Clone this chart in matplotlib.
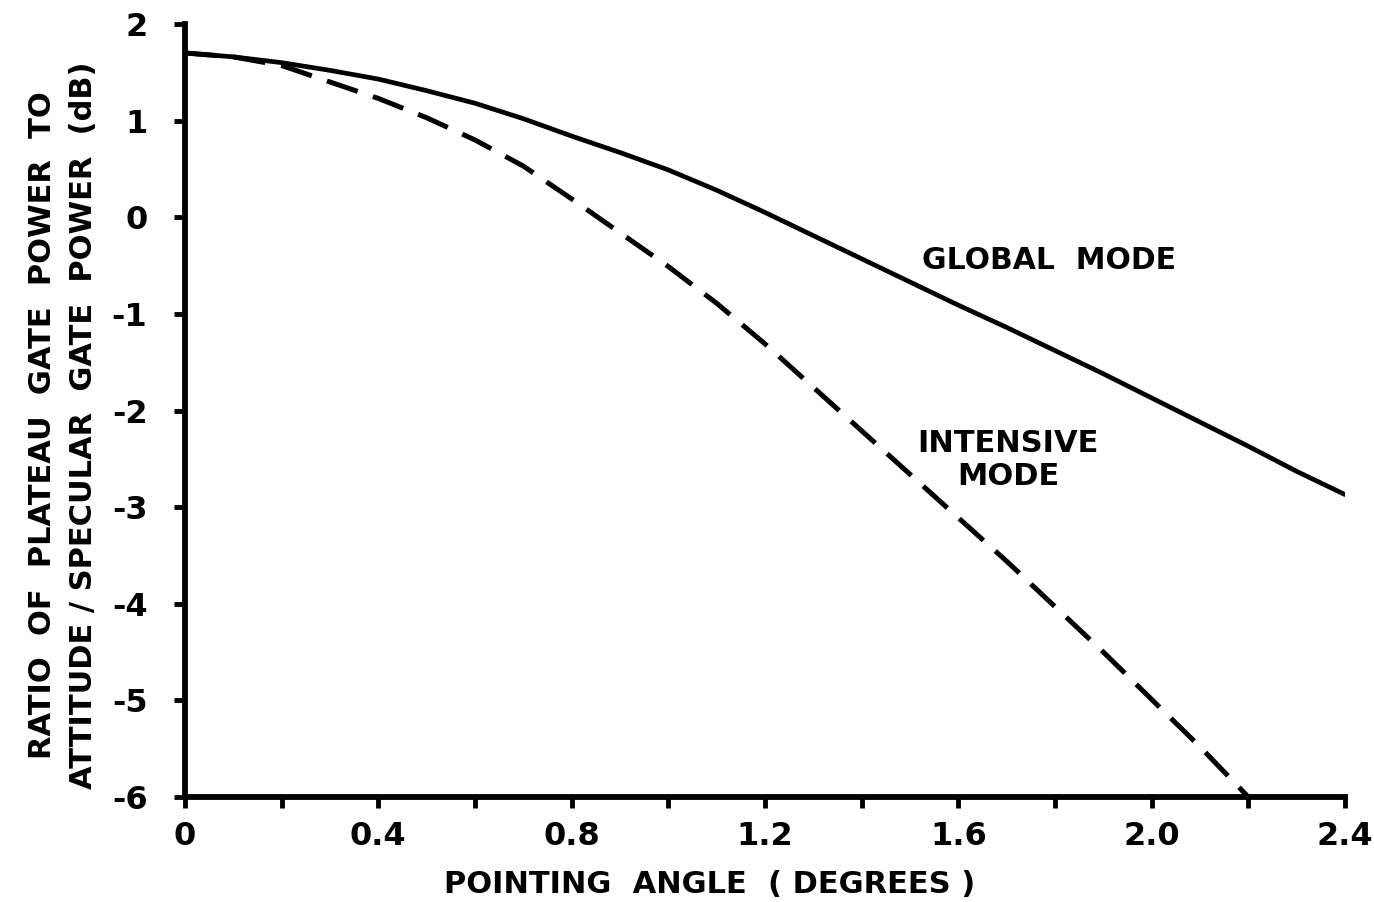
import numpy as np
import matplotlib
matplotlib.use("Agg")
import matplotlib.pyplot as plt
from matplotlib.ticker import FixedLocator, FixedFormatter, MultipleLocator

# Pointing angle (degrees) and power ratio (dB) for the two modes
angle_global = [0.0, 0.1, 0.2, 0.3, 0.4, 0.5, 0.6, 0.7, 0.8, 0.9, 1.0, 1.1, 1.2,
                1.3, 1.4, 1.5, 1.6, 1.7, 1.8, 1.9, 2.0, 2.1, 2.2, 2.3, 2.4]
ratio_global = [1.70, 1.66, 1.60, 1.52, 1.43, 1.31, 1.18, 1.02, 0.84, 0.67, 0.49,
                0.28, 0.05, -0.19, -0.43, -0.67, -0.91, -1.14, -1.38, -1.62,
                -1.87, -2.12, -2.37, -2.63, -2.87]

angle_intensive = [0.0, 0.1, 0.2, 0.3, 0.4, 0.5, 0.6, 0.7, 0.8, 0.9, 1.0, 1.1,
                   1.2, 1.3, 1.4, 1.5, 1.6, 1.7, 1.8, 1.9, 2.0, 2.1, 2.2]
ratio_intensive = [1.70, 1.66, 1.57, 1.40, 1.23, 1.03, 0.80, 0.53, 0.19, -0.16,
                   -0.51, -0.89, -1.31, -1.76, -2.21, -2.66, -3.11, -3.56,
                   -4.03, -4.50, -4.99, -5.48, -6.00]

x_major = [0.0, 0.4, 0.8, 1.2, 1.6, 2.0, 2.4]
x_labels = ["0", "0.4", "0.8", "1.2", "1.6", "2.0", "2.4"]
y_major = [-6, -5, -4, -3, -2, -1, 0, 1, 2]
y_labels = ["-6", "-5", "-4", "-3", "-2", "-1", "0", "1", "2"]

FONT = "DejaVu Sans"
SIZE = 22

fig = plt.figure(figsize=(13.74, 9.02), dpi=100)
ax = fig.add_axes([0.1346, 0.1164, 0.8443, 0.8570])

ax.plot(angle_global, ratio_global, color="black", lw=3.4,
        solid_capstyle="round", solid_joinstyle="round")
ax.plot(angle_intensive, ratio_intensive, color="black", lw=3.6,
        dashes=(6.5, 3.2), dash_capstyle="butt")

ax.set_xlim(0, 2.4)
ax.set_ylim(-6, 2)

for side in ("top", "right"):
    ax.spines[side].set_visible(False)
for side in ("left", "bottom"):
    ax.spines[side].set_linewidth(4.2)
    ax.spines[side].set_capstyle("projecting")

ax.xaxis.set_major_locator(FixedLocator(x_major))
ax.xaxis.set_major_formatter(FixedFormatter(x_labels))
ax.xaxis.set_minor_locator(MultipleLocator(0.2))
ax.yaxis.set_major_locator(FixedLocator(y_major))
ax.yaxis.set_major_formatter(FixedFormatter(y_labels))

ax.tick_params(axis="x", which="both", direction="out", length=8, width=3.5,
               pad=9)
ax.tick_params(axis="y", which="major", direction="out", length=8, width=3.5,
               pad=19)
for lab in ax.get_xticklabels() + ax.get_yticklabels():
    lab.set_fontfamily(FONT)
    lab.set_fontsize(SIZE + 1)
    lab.set_fontweight("bold")

ax.set_xlabel("POINTING  ANGLE  ( DEGREES )", fontfamily=FONT, fontsize=SIZE,
              fontweight="bold")
ax.xaxis.set_label_coords(0.4526, -0.094)

ax.set_ylabel("RATIO  OF  PLATEAU  GATE  POWER  TO\n"
              "ATTITUDE / SPECULAR  GATE  POWER  (dB)",
              fontfamily=FONT, fontsize=SIZE, fontweight="bold",
              linespacing=1.5)
ax.yaxis.set_label_coords(-0.075, 0.481)

ax.text(1.525, -0.45, "GLOBAL  MODE", fontfamily=FONT, fontsize=21.5,
        fontweight="bold", ha="left", va="center")
ax.text(1.703, -2.51, "INTENSIVE\nMODE", fontfamily=FONT, fontsize=SIZE,
        fontweight="bold", ha="center", va="center", linespacing=1.15)

fig.savefig("out.png", dpi=100, facecolor="white")
